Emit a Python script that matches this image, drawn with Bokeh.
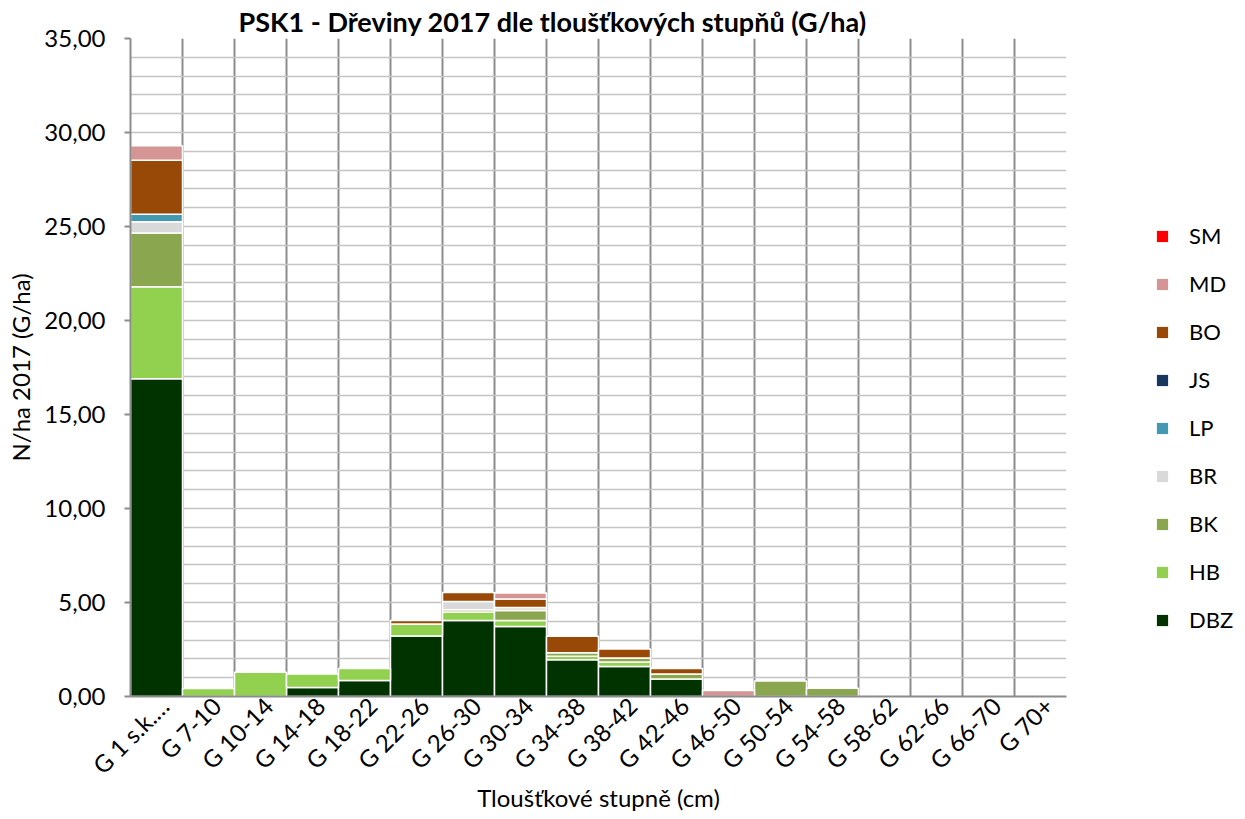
import math
from bokeh.plotting import figure
from bokeh.layouts import row
from bokeh.models import (ColumnDataSource, FixedTicker, CustomJSTickFormatter,
                          Legend, LegendItem, Range1d)
from bokeh.embed import file_html
from bokeh.resources import INLINE

# ---------------- data ----------------
categories = ["G 1 s.k.…", "G 7-10", "G 10-14", "G 14-18", "G 18-22", "G 22-26",
              "G 26-30", "G 30-34", "G 34-38", "G 38-42", "G 42-46", "G 46-50",
              "G 50-54", "G 54-58", "G 58-62", "G 62-66", "G 66-70", "G 70+"]

DBZ = [16.90, 0.00, 0.00, 0.48, 0.85, 3.22, 4.04, 3.72, 1.95, 1.60, 0.93, 0.00, 0.00, 0.00, 0, 0, 0, 0]
HB  = [4.89, 0.43, 1.29, 0.72, 0.64, 0.64, 0.45, 0.32, 0.19, 0.24, 0.00, 0.00, 0.00, 0.00, 0, 0, 0, 0]
BK  = [2.87, 0.00, 0.00, 0.00, 0.00, 0.00, 0.13, 0.53, 0.19, 0.21, 0.27, 0.00, 0.82, 0.44, 0, 0, 0, 0]
BR  = [0.59, 0.00, 0.00, 0.00, 0.00, 0.00, 0.43, 0.16, 0.00, 0.00, 0.00, 0.00, 0.00, 0.00, 0, 0, 0, 0]
LP  = [0.40, 0.00, 0.00, 0.00, 0.00, 0.00, 0.00, 0.00, 0.00, 0.00, 0.00, 0.00, 0.00, 0.00, 0, 0, 0, 0]
JS  = [0.00, 0.00, 0.00, 0.00, 0.00, 0.00, 0.00, 0.00, 0.00, 0.00, 0.00, 0.00, 0.00, 0.00, 0, 0, 0, 0]
BO  = [2.87, 0.00, 0.00, 0.00, 0.00, 0.18, 0.48, 0.45, 0.88, 0.48, 0.29, 0.00, 0.00, 0.00, 0, 0, 0, 0]
MD  = [0.77, 0.00, 0.00, 0.00, 0.00, 0.00, 0.00, 0.32, 0.00, 0.00, 0.00, 0.32, 0.00, 0.00, 0, 0, 0, 0]
SM  = [0.00, 0.00, 0.00, 0.00, 0.00, 0.00, 0.00, 0.00, 0.00, 0.00, 0.00, 0.00, 0.00, 0.00, 0, 0, 0, 0]

species = ["DBZ", "HB", "BK", "BR", "LP", "JS", "BO", "MD", "SM"]
values = [DBZ, HB, BK, BR, LP, JS, BO, MD, SM]
colors = ["#013300", "#92D050", "#8AA64E", "#D9D9D9", "#4299B0", "#17375E",
          "#984807", "#D59594", "#FF0000"]

y_ticks = [0, 5, 10, 15, 20, 25, 30, 35]
y_max = 35

# ---------------- main figure ----------------
FONT = "Lato"
n = len(categories)
H = 815

p = figure(width=1074, height=H,
           x_range=Range1d(0, n), y_range=Range1d(0, y_max),
           output_backend="svg", toolbar_location=None,
           min_border_left=130, min_border_right=8,
           min_border_top=38, min_border_bottom=119)
p.outline_line_color = None

p.title.text = "PSK1 - Dřeviny 2017 dle tloušťkových stupňů (G/ha)"
p.title.align = "left"
p.title.offset = 108
p.title.standoff = 2
p.title.text_font = FONT
p.title.text_font_size = "27px"
p.title.text_font_style = "bold"
p.title.text_color = "#000000"

# grids
p.ygrid.ticker = FixedTicker(ticks=list(range(0, y_max + 1)))
p.ygrid.grid_line_color = "#C4C4C4"
p.ygrid.grid_line_width = 1.5
p.xgrid.ticker = FixedTicker(ticks=list(range(0, n + 1)))
p.xgrid.grid_line_color = "#8C8C8C"
p.xgrid.grid_line_width = 2

# bars
centers = [i + 0.5 for i in range(n)]
cum = [0.0] * n
for name, vals, col in zip(species, values, colors):
    xs, bots, tops = [], [], []
    for i, v in enumerate(vals):
        if v > 0:
            xs.append(centers[i])
            bots.append(cum[i])
            tops.append(cum[i] + v)
        cum[i] += v
    src = ColumnDataSource(dict(x=xs, bottom=bots, top=tops))
    p.vbar(x="x", bottom="bottom", top="top", width=1.0, source=src,
           fill_color=col, line_color="white", line_width=1.5)

# axes
p.yaxis.ticker = FixedTicker(ticks=y_ticks)
p.yaxis.formatter = CustomJSTickFormatter(code="return tick.toFixed(2).replace('.', ',');")
p.yaxis.axis_line_color = "#8C8C8C"
p.yaxis.axis_line_width = 2
p.yaxis.major_tick_line_color = "#8C8C8C"
p.yaxis.major_tick_line_width = 2
p.yaxis.major_tick_out = 6
p.yaxis.major_tick_in = 0
p.yaxis.minor_tick_line_color = None
p.yaxis.major_label_text_font = FONT
p.yaxis.major_label_text_font_size = "24px"
p.yaxis.major_label_text_color = "#000000"
p.yaxis.major_label_standoff = 19
p.yaxis.axis_label = "N/ha 2017 (G/ha)"
p.yaxis.axis_label_text_font = FONT
p.yaxis.axis_label_text_font_size = "24px"
p.yaxis.axis_label_text_font_style = "normal"
p.yaxis.axis_label_text_color = "#000000"
p.yaxis.axis_label_standoff = 6

label_pos = [c + 0.15 for c in centers]
p.xaxis.ticker = FixedTicker(ticks=label_pos)
p.xaxis.major_label_overrides = {c: lab for c, lab in zip(label_pos, categories)}
p.xaxis.major_label_orientation = math.pi / 4
p.xaxis.axis_line_color = "#8C8C8C"
p.xaxis.axis_line_width = 2
p.xaxis.major_tick_out = 0
p.xaxis.major_tick_in = 0
p.xaxis.minor_tick_line_color = None
p.xaxis.major_label_text_font = FONT
p.xaxis.major_label_text_font_size = "24px"
p.xaxis.major_label_text_color = "#000000"
p.xaxis.major_label_standoff = 5
p.xaxis.axis_label = "Tloušťkové stupně (cm)"
p.xaxis.axis_label_text_font = FONT
p.xaxis.axis_label_text_font_size = "24px"
p.xaxis.axis_label_text_font_style = "normal"
p.xaxis.axis_label_text_color = "#000000"
p.xaxis.axis_label_standoff = -10

# ---------------- legend panel ----------------
q = figure(width=166, height=H, x_range=Range1d(0, 1), y_range=Range1d(0, 1),
           output_backend="svg", toolbar_location=None,
           x_axis_type=None, y_axis_type=None,
           min_border_left=0, min_border_right=0, min_border_top=0, min_border_bottom=0)
q.outline_line_color = None
q.xgrid.visible = False
q.ygrid.visible = False

leg_renderers = {}
for name, col in zip(species, colors):
    src = ColumnDataSource(dict(x=[0.5], bottom=[0.0], top=[0.0]))
    leg_renderers[name] = q.vbar(x="x", bottom="bottom", top="top", width=0.0001, source=src,
                                 fill_color=col, line_color=None)

items = [LegendItem(label=name, renderers=[leg_renderers[name]]) for name in reversed(species)]
legend = Legend(items=items, location=(81, 63),
                border_line_color=None, background_fill_alpha=0,
                label_text_font=FONT, label_text_font_size="22px",
                label_text_color="#000000",
                glyph_width=14, glyph_height=14, label_height=22,
                spacing=21, padding=0, margin=0, label_standoff=20)
q.add_layout(legend, "center")

layout = row(p, q)
open("out.html", "w").write(file_html(layout, INLINE))
